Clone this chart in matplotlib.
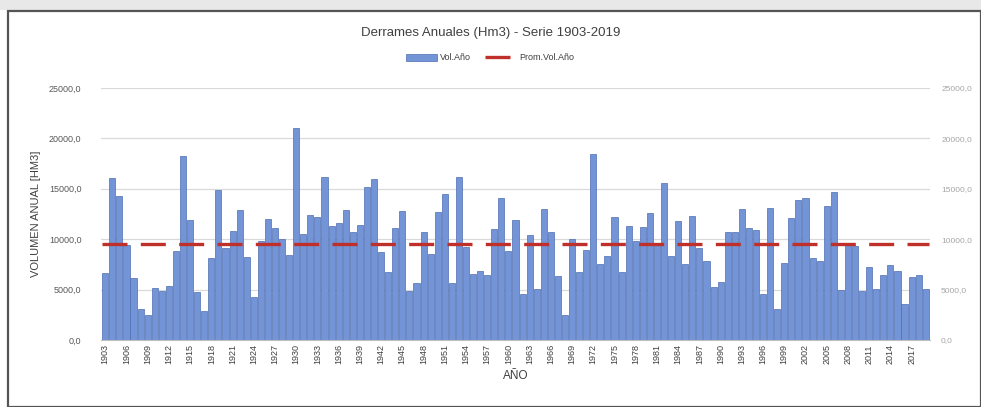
import matplotlib
matplotlib.use("Agg")
import matplotlib.pyplot as plt
import numpy as np

years = list(range(1903, 2020))
vol_anual = [
    6620, 16050, 14300, 9430, 6190, 3050, 2480, 5130, 4900, 5360,
    8870, 18270, 11900, 4730, 2880, 8100, 14900, 9100, 10820, 12900,
    8280, 4240, 9860, 11980, 11090, 10030, 8440, 21000, 10530, 12410,
    12180, 16220, 11300, 11650, 12900, 10670, 11440, 15220, 16000, 8730,
    6700, 11090, 12840, 4880, 5620, 10720, 8520, 12740, 14490, 5700,
    16150, 9180, 6520, 6870, 6400, 10990, 14100, 8800, 11880, 4530,
    10430, 5040, 13040, 10690, 6390, 2480, 10050, 6770, 8900, 18460,
    7550, 8300, 12240, 6700, 11330, 9870, 11250, 12640, 9430, 15560,
    8340, 11850, 7550, 12310, 9100, 7880, 5300, 5730, 10760, 10690,
    12980, 11090, 10920, 4570, 13070, 3080, 7610, 12080, 13900, 14070,
    8110, 7880, 13310, 14730, 4970, 9600, 9330, 4870, 7220, 5060,
    6450, 7450, 6850, 3540, 6290, 6450, 5060,
]
prom_vol = 9550
yticks = [0, 5000, 10000, 15000, 20000, 25000]
ytick_labels = ["0,0", "5000,0", "10000,0", "15000,0", "20000,0", "25000,0"]
title = "Derrames Anuales (Hm3) - Serie 1903-2019"

plt.rcParams['font.family'] = ['Liberation Sans', 'DejaVu Sans']

fig = plt.figure(figsize=(9.81, 4.07), dpi=100)
fig.patch.set_facecolor('white')

# outer chart frame
fig.add_artist(plt.Rectangle((0, 1 - 10/407), 1, 10/407, transform=fig.transFigure,
                             facecolor='#e8e8e8', edgecolor='none'))
frame = plt.Rectangle((8/981, 0), 1 - 8/981, 1 - 11/407, transform=fig.transFigure,
                      fill=False, edgecolor='#555555', linewidth=1.6)
fig.add_artist(frame)

ax = fig.add_axes([101/981, 1 - 340/407, 829/981, 252/407])
x = np.arange(len(years))
bars = ax.bar(x, vol_anual, width=0.86, color='#7394d6', edgecolor='#4e6db0', linewidth=0.5,
              zorder=2)
line, = ax.plot([x[0] - 0.5, x[-1] + 0.5], [prom_vol, prom_vol], color='#c0302a', linewidth=2.4,
                dashes=(7.5, 4), zorder=3)

ax.set_xlim(-0.6, len(years) - 0.4)
ax.set_ylim(0, 25000)
ax.set_yticks(yticks)
ax.set_yticklabels(ytick_labels, fontsize=6.5, color='#595959')
ax.yaxis.grid(True, color='#d9d9d9', linewidth=0.9, zorder=0)
ax.set_axisbelow(True)
for s in ['top', 'right', 'left']:
    ax.spines[s].set_visible(False)
ax.spines['bottom'].set_color('#bfbfbf')
ax.tick_params(axis='y', length=0, pad=14)

tick_idx = x[::3]
ax.set_xticks(tick_idx)
ax.set_xticklabels([str(years[i]) for i in tick_idx], rotation=90, fontsize=6.5, color='#404040')
ax.tick_params(axis='x', length=0, pad=3)

ax.set_ylabel("VOLUMEN ANUAL [HM3]", fontsize=8, color='#404040', labelpad=6)
ax.set_xlabel("AÑO", fontsize=8.5, color='#404040', labelpad=4)

ax2 = ax.twinx()
ax2.set_ylim(0, 25000)
ax2.set_yticks(yticks)
ax2.set_yticklabels(ytick_labels, fontsize=6, color='#a6a6a6')
ax2.tick_params(axis='y', length=0, pad=8)
for s in ['top', 'right', 'left', 'bottom']:
    ax2.spines[s].set_visible(False)

fig.text(0.5, 1 - 33/407, title, ha='center', va='center', fontsize=9.5, color='#404040')
leg = fig.legend([bars, line], ['Vol.Año', 'Prom.Vol.Año'], loc='center',
                 bbox_to_anchor=(490/981, 1 - 58/407),
                 ncol=2, frameon=False, fontsize=6.5, handlelength=3.4, columnspacing=1.5,
                 handletextpad=0.4, borderaxespad=0, borderpad=0)
for t in leg.get_texts():
    t.set_color('#404040')

fig.savefig("out.png", dpi=100)
